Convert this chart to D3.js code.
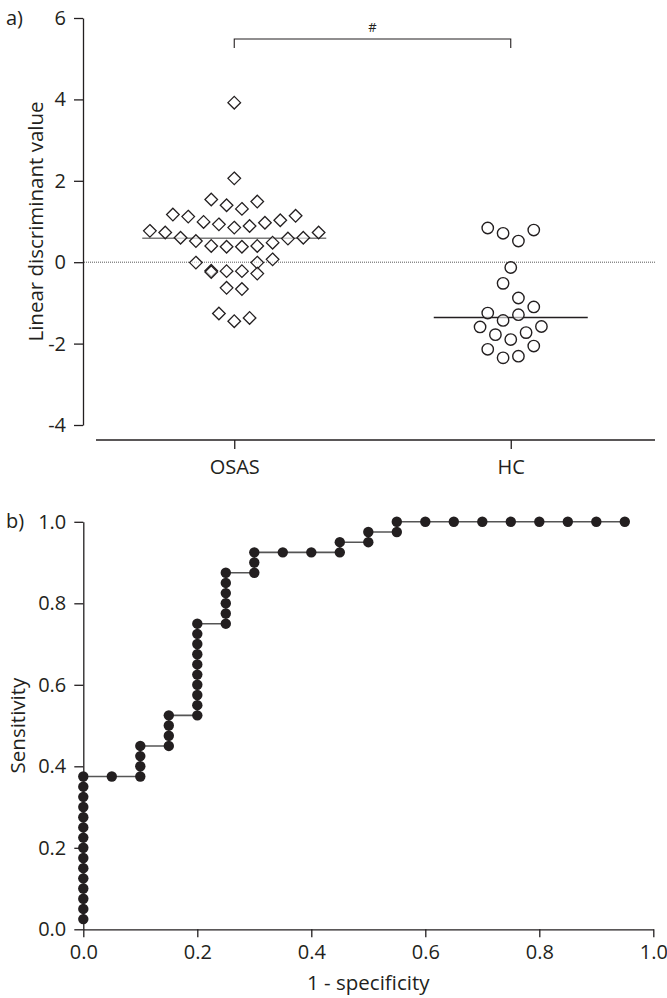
<!DOCTYPE html>
<html lang="en">
<head>
  <meta charset="UTF-8">
  <title>Linear discriminant value and ROC curve</title>
  <script src="https://d3js.org/d3.v7.min.js"></script>
  <style>
    body {
      margin: 0;
      background: #fff;
    }
    svg text {
      font-family: "Open Sans", "DejaVu Sans", sans-serif;
      fill: #231f20;
    }
    .axis path, .axis line {
      stroke: #231f20;
      stroke-width: 1.3px;
    }
    .axis text {
      font-size: 20px;
    }
  </style>
</head>
<body>
  <svg id="chart" width="667" height="998"></svg>
  <script>
    // panel a: groups, values and swarm slot (in half-column units)
    const groups = ["OSAS", "HC"];
    const osasValues = [3.92, 2.06, 1.54, 1.40, 1.31, 1.49,
      1.17, 1.12, 0.99, 0.93, 0.85, 0.89, 0.97, 1.03, 1.14,
      0.77, 0.73, 0.60, 0.52, 0.40, 0.38, 0.38, 0.40, 0.48, 0.58, 0.60, 0.73,
      -0.01, -0.01, 0.07, -0.21, -0.24, -0.22, -0.22, -0.28,
      -0.63, -0.66, -1.26, -1.45, -1.37];
    const osasSlots = [0, 0, -3, -1, 1, 3,
      -8, -6, -4, -2, 0, 2, 4, 6, 8,
      -11, -9, -7, -5, -3, -1, 1, 3, 5, 7, 9, 11,
      -5, 3, 5, -3, -3, -1, 1, 3,
      -1, 1, -2, 0, 2];
    const hcValues = [0.84, 0.71, 0.52, 0.79, -0.13, -0.52, -0.88, -1.10,
      -1.25, -1.43, -1.29, -1.59, -1.78, -1.90, -1.73, -1.58,
      -2.14, -2.35, -2.31, -2.06];
    const hcSlots = [-3, -1, 1, 3, 0, -1, 1, 3,
      -3, -1, 1, -4, -2, 0, 2, 4,
      -3, -1, 1, 3];
    const medians = [0.59, -1.36];
    const yTicksA = [-4, -2, 0, 2, 4, 6];

    // panel b: ROC curve points
    const fpr = [0, 0, 0, 0, 0, 0, 0, 0, 0, 0, 0, 0, 0, 0, 0,
      0.05,
      0.1, 0.1, 0.1, 0.1,
      0.15, 0.15, 0.15, 0.15,
      0.2, 0.2, 0.2, 0.2, 0.2, 0.2, 0.2, 0.2, 0.2, 0.2,
      0.25, 0.25, 0.25, 0.25, 0.25, 0.25,
      0.3, 0.3, 0.3,
      0.35, 0.4,
      0.45, 0.45,
      0.5, 0.5,
      0.55, 0.55,
      0.6, 0.65, 0.7, 0.75, 0.8, 0.85, 0.9, 0.95];
    const tpr = [0.025, 0.05, 0.075, 0.1, 0.125, 0.15, 0.175, 0.2, 0.225, 0.25, 0.275, 0.3, 0.325, 0.35, 0.375,
      0.375,
      0.375, 0.4, 0.425, 0.45,
      0.45, 0.475, 0.5, 0.525,
      0.525, 0.55, 0.575, 0.6, 0.625, 0.65, 0.675, 0.7, 0.725, 0.75,
      0.75, 0.775, 0.8, 0.825, 0.85, 0.875,
      0.875, 0.9, 0.925,
      0.925, 0.925,
      0.925, 0.95,
      0.95, 0.975,
      0.975, 1.0,
      1.0, 1.0, 1.0, 1.0, 1.0, 1.0, 1.0, 1.0];
    const ticksB = [0, 0.2, 0.4, 0.6, 0.8, 1.0];

    const svg = d3.select("#chart");
    const ink = "#231f20";

    // ---------- panel a ----------
    const yA = d3.scaleLinear().domain([-4, 6]).range([425, 18]);
    const xA = d3.scalePoint().domain(groups).range([96, 649]).padding(0.5);
    const halfStep = 7.67;

    svg.append("g")
      .attr("class", "axis")
      .attr("transform", "translate(83,0)")
      .call(d3.axisLeft(yA).tickValues(yTicksA).tickSize(9).tickSizeOuter(0)
        .tickPadding(8).tickFormat(d => String(d)));

    const xAxisA = svg.append("g")
      .attr("class", "axis")
      .attr("transform", "translate(0,440)")
      .call(d3.axisBottom(xA).tickSize(9).tickSizeOuter(0).tickPadding(11));
    xAxisA.select(".domain").remove();
    xAxisA.append("line")
      .attr("x1", 96).attr("x2", 655)
      .attr("y1", 0).attr("y2", 0);

    // zero reference line
    svg.append("line")
      .attr("x1", 84).attr("x2", 655)
      .attr("y1", yA(0)).attr("y2", yA(0))
      .attr("stroke", "#444")
      .attr("stroke-width", 0.9)
      .attr("stroke-dasharray", "1,1");

    // medians
    const medianHalf = [92, 77];
    const medianColor = ["#7a7a7a", ink];
    groups.forEach((g, i) => {
      svg.append("line")
        .attr("x1", xA(g) - medianHalf[i])
        .attr("x2", xA(g) + medianHalf[i])
        .attr("y1", yA(medians[i]))
        .attr("y2", yA(medians[i]))
        .attr("stroke", medianColor[i])
        .attr("stroke-width", 1.4);
    });

    // OSAS diamonds, HC circles
    const osas = osasValues.map((v, i) => ({ v, k: osasSlots[i] }));
    const hc = hcValues.map((v, i) => ({ v, k: hcSlots[i] }));

    svg.selectAll(".diamond")
      .data(osas)
      .enter()
      .append("path")
      .attr("class", "diamond")
      .attr("d", "M0,-6.3L6.3,0L0,6.3L-6.3,0Z")
      .attr("transform", d => `translate(${xA("OSAS") + d.k * halfStep},${yA(d.v)})`)
      .attr("fill", "#fff")
      .attr("fill-opacity", 0.6)
      .attr("stroke", ink)
      .attr("stroke-width", 1.3);

    svg.selectAll(".hc")
      .data(hc)
      .enter()
      .append("circle")
      .attr("class", "hc")
      .attr("cx", d => xA("HC") + d.k * halfStep)
      .attr("cy", d => yA(d.v))
      .attr("r", 5.7)
      .attr("fill", "#fff")
      .attr("fill-opacity", 0.6)
      .attr("stroke", ink)
      .attr("stroke-width", 1.4);

    // significance bracket
    const bracketY = 39;
    svg.append("path")
      .attr("d", `M${xA("OSAS")},${bracketY + 9}V${bracketY}H${xA("HC")}V${bracketY + 9}`)
      .attr("fill", "none")
      .attr("stroke", ink)
      .attr("stroke-width", 1.1);
    svg.append("text")
      .attr("x", (xA("OSAS") + xA("HC")) / 2)
      .attr("y", 32)
      .attr("text-anchor", "middle")
      .attr("font-size", "13px")
      .text("#");

    svg.append("text")
      .attr("transform", `translate(43,${(yA(6) + yA(-4)) / 2}) rotate(-90)`)
      .attr("text-anchor", "middle")
      .attr("font-size", "20.5px")
      .text("Linear discriminant value");

    svg.append("text")
      .attr("x", 6).attr("y", 25)
      .attr("font-size", "20px")
      .text("a)");

    // ---------- panel b ----------
    const xB = d3.scaleLinear().domain([0, 1]).range([83.3, 653.3]);
    const yB = d3.scaleLinear().domain([0, 1]).range([929.3, 521.8]);

    svg.append("g")
      .attr("class", "axis")
      .attr("transform", `translate(${xB(0)},0)`)
      .call(d3.axisLeft(yB).tickValues(ticksB).tickSize(9).tickSizeOuter(0)
        .tickPadding(8).tickFormat(d3.format(".1f")));

    svg.append("g")
      .attr("class", "axis")
      .attr("transform", `translate(0,${yB(0)})`)
      .call(d3.axisBottom(xB).tickValues(ticksB).tickSize(8).tickSizeOuter(0)
        .tickPadding(8).tickFormat(d3.format(".1f")));

    const roc = fpr.map((x, i) => ({ x, y: tpr[i] }));

    svg.append("path")
      .datum(roc)
      .attr("fill", "none")
      .attr("stroke", "#555")
      .attr("stroke-width", 1.6)
      .attr("d", d3.line().x(d => xB(d.x)).y(d => yB(d.y)));

    svg.selectAll(".roc")
      .data(roc)
      .enter()
      .append("circle")
      .attr("class", "roc")
      .attr("cx", d => xB(d.x))
      .attr("cy", d => yB(d.y))
      .attr("r", 5.2)
      .attr("fill", ink);

    svg.append("text")
      .attr("transform", `translate(25,${(yB(0) + yB(1)) / 2}) rotate(-90)`)
      .attr("text-anchor", "middle")
      .attr("font-size", "20.5px")
      .text("Sensitivity");

    svg.append("text")
      .attr("x", (xB(0) + xB(1)) / 2)
      .attr("y", 990)
      .attr("text-anchor", "middle")
      .attr("font-size", "20.5px")
      .text("1 - specificity");

    svg.append("text")
      .attr("x", 6).attr("y", 528)
      .attr("font-size", "20px")
      .text("b)");
  </script>
</body>
</html>
